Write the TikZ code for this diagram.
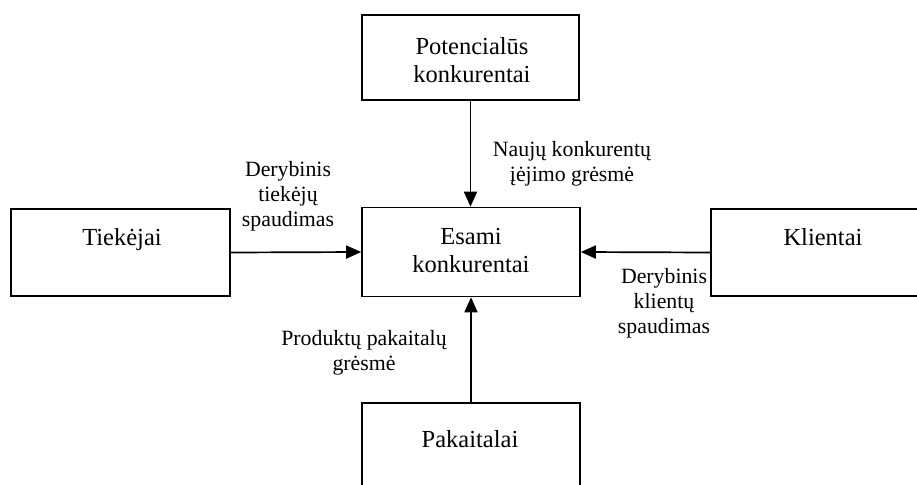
\documentclass[tikz,border=0pt]{standalone}
\usepackage{fontspec}
\setmainfont{Liberation Serif}
\usetikzlibrary{arrows.meta}
\begin{document}
\begin{tikzpicture}[x=1pt,y=-1pt,
  box/.style={draw, line width=1.6pt, rectangle, inner sep=0pt},
  boxtext/.style={font=\fontsize{24.5}{28}\selectfont, align=center, inner sep=0pt},
  flowtext/.style={font=\fontsize{21.8}{25}\selectfont, align=center, inner sep=0pt},
  flow/.style={line width=1.7pt, -{Triangle[length=15pt,width=13pt]}}]
  \path[use as bounding box] (0,0) rectangle (917,484);
  \clip (0,0) rectangle (917,484);

  % boxes
  \node[box, minimum width=217pt, minimum height=85pt] (pot)    at (470.5,57.5) {};
  \node[box, minimum width=218pt, minimum height=89pt] (esami)  at (471,252)   {};
  \node[box, minimum width=219pt, minimum height=87pt] (tiek)   at (120.5,252.5) {};
  \node[box, minimum width=224pt, minimum height=87pt] (klient) at (823,252.5) {};
  \node[box, minimum width=218pt, minimum height=120pt] (pak)   at (471,463)   {};

  % box captions
  \node[boxtext] (potT)    at (472,60)  {Potencialūs\\konkurentai};
  \node[boxtext] (esamiT)  at (471,251) {Esami\\konkurentai};
  \node[boxtext, anchor=base] (tiekT)   at (122,245) {Tiekėjai};
  \node[boxtext, anchor=base] (klientT) at (823,245) {Klientai};
  \node[boxtext, anchor=base] (pakT)    at (470,447) {Pakaitalai};

  % connectors
  \draw[flow] (pot.south) -- (pot.south |- esami.north);
  \draw[flow] (tiek.east) -- (esami.west);
  \draw[flow] (klient.west) -- (esami.east);
  \draw[flow] (pak.north) -- (esami.south);

  % connector captions
  \node[flowtext] (naujT)  at (572,164) {Naujų konkurentų\\įėjimo grėsmė};
  \node[flowtext] (tiekF)  at (288,196) {Derybinis\\tiekėjų\\spaudimas};
  \node[flowtext] (klF)    at (664,303) {Derybinis\\klientų\\spaudimas};
  \node[flowtext] (pakF)   at (364,353) {Produktų pakaitalų\\grėsmė};
\end{tikzpicture}
\end{document}
